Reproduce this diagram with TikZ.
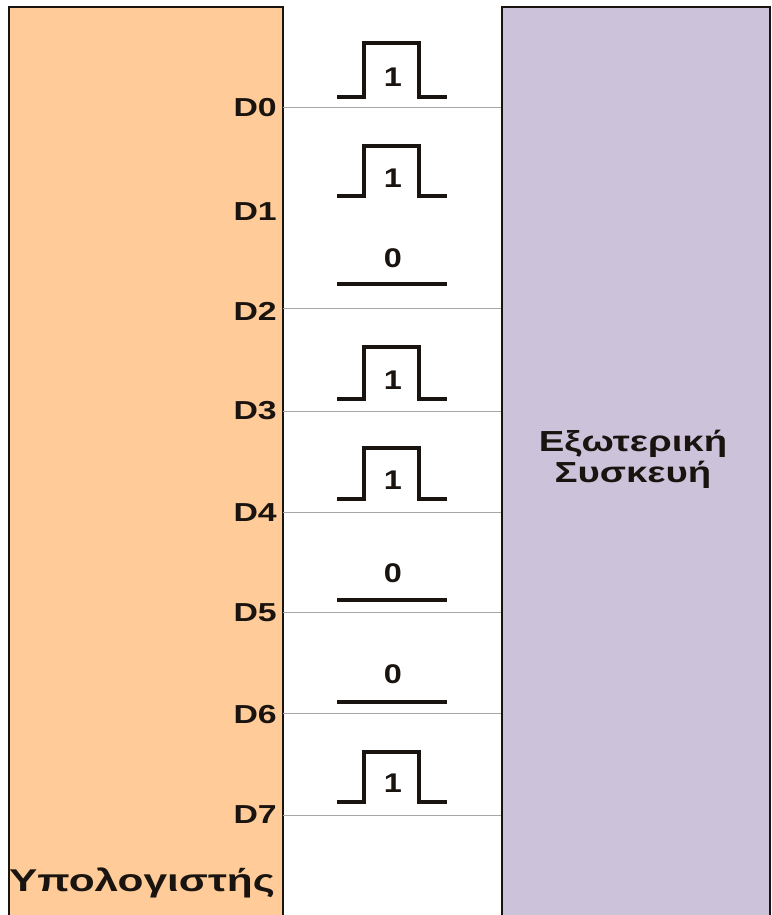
\documentclass[tikz,border=0pt]{standalone}
\usepackage{fontspec}
\setmainfont{Liberation Sans}

\definecolor{compfill}{HTML}{FFCC99}
\definecolor{devfill}{HTML}{CCC2DA}
\definecolor{busgray}{HTML}{A6A6A6}
\definecolor{inkdark}{HTML}{1A1410}

\tikzset{
  unitbox/.style={draw=inkdark, line width=1.8pt, inner sep=0pt},
  bitname/.style={font=\bfseries\fontsize{26}{30}\selectfont, text=inkdark, xscale=1.3, inner sep=0pt},
  bitval/.style={font=\bfseries\fontsize{27}{30}\selectfont, text=inkdark, xscale=1.2, inner sep=0pt},
  boxtitle/.style={font=\bfseries\fontsize{29}{31}\selectfont, text=inkdark, xscale=1.32, align=center},
  busline/.style={draw=busgray, line width=1pt},
  wave/.style={draw=inkdark, line width=3.2pt}
}

\begin{document}
\begin{tikzpicture}[x=1pt, y=-1pt]
    \useasboundingbox (0,0) rectangle (771,915);

    % The two units
    \node[unitbox, fill=compfill, minimum width=274pt, minimum height=916pt] (comp) at (146,465) {};
    \node[unitbox, fill=devfill, minimum width=268pt, minimum height=916pt] (dev) at (636,465) {};

    % Unit titles
    \node[boxtitle, font=\bfseries\fontsize{31.5}{34}\selectfont, xscale=1.02] (comptitle) at (142,883) {Υπολογιστής};
    \node[boxtitle] (devtitle) at (633,459) {Εξωτερική\\Συσκευή};

    % Data line names
    \node[bitname, anchor=east] (d0) at (277,108) {D0};
    \node[bitname, anchor=east] (d1) at (277,212) {D1};
    \node[bitname, anchor=east] (d2) at (277,311) {D2};
    \node[bitname, anchor=east] (d3) at (277,411) {D3};
    \node[bitname, anchor=east] (d4) at (277,513) {D4};
    \node[bitname, anchor=east] (d5) at (277,613) {D5};
    \node[bitname, anchor=east] (d6) at (277,715) {D6};
    \node[bitname, anchor=east] (d7) at (277,815) {D7};

    % Data lines between the units
    \coordinate (l0) at (283,108);
    \coordinate (l2) at (283,308);
    \coordinate (l3) at (283,411);
    \coordinate (l4) at (283,512);
    \coordinate (l5) at (283,612);
    \coordinate (l6) at (283,713);
    \coordinate (l7) at (283,815);
    \draw[busline] (l0) -- (l0 -| dev.west);
    \draw[busline] (l2) -- (l2 -| dev.west);
    \draw[busline] (l3) -- (l3 -| dev.west);
    \draw[busline] (l4) -- (l4 -| dev.west);
    \draw[busline] (l5) -- (l5 -| dev.west);
    \draw[busline] (l6) -- (l6 -| dev.west);
    \draw[busline] (l7) -- (l7 -| dev.west);

    % Pulses for the ones
    \draw[wave] (337,97) -- (364,97) -- (364,43) -- (419,43) -- (419,97) -- (447,97);
    \draw[wave] (337,196) -- (364,196) -- (364,146) -- (419,146) -- (419,196) -- (447,196);
    \draw[wave] (337,399) -- (364,399) -- (364,347) -- (419,347) -- (419,399) -- (447,399);
    \draw[wave] (337,499) -- (364,499) -- (364,448) -- (419,448) -- (419,499) -- (447,499);
    \draw[wave] (337,802) -- (364,802) -- (364,752) -- (419,752) -- (419,802) -- (447,802);

    % Flat lines for the zeros
    \draw[wave] (337,284) -- (447,284);
    \draw[wave] (337,600) -- (447,600);
    \draw[wave] (337,702) -- (447,702);

    % Bit values
    \node[bitval] (v0) at (393,77) {1};
    \node[bitval] (v1) at (393,178) {1};
    \node[bitval] (v2) at (393,258) {0};
    \node[bitval] (v3) at (393,380) {1};
    \node[bitval] (v4) at (393,480) {1};
    \node[bitval] (v5) at (393,573) {0};
    \node[bitval] (v6) at (393,674) {0};
    \node[bitval] (v7) at (393,783) {1};

\end{tikzpicture}
\end{document}
